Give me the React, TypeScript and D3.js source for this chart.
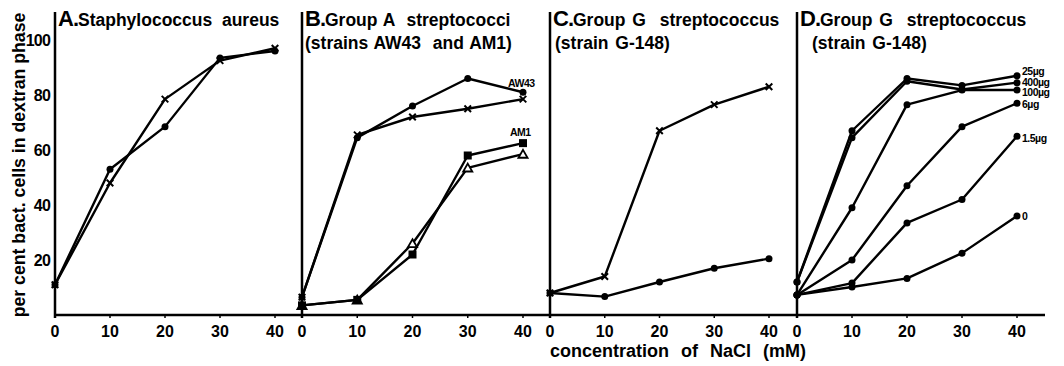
import * as d3 from 'd3'

const nacl = [0, 10, 20, 30, 40]
const yTicks = [20, 40, 60, 80, 100]

// A. Staphylococcus aureus
const aCircle = [11, 53, 68.5, 93.5, 96]
const aCross = [11, 48, 78.5, 92.5, 97]
// B. Group A streptococci
const bAW43Circle = [6.5, 64.5, 76, 86, 81]
const bAW43Cross = [6.5, 65.5, 72, 75, 78.5]
const bAM1Square = [3.5, 5.5, 22, 58, 62.5]
const bAM1Triangle = [3.5, 5.5, 26, 53.5, 58.5]
// C. Group G streptococcus
const cCross = [8, 14, 67, 76.5, 83]
const cCircle = [8, 6.7, 12, 17, 20.5]
// D. Group G streptococcus, doses
const dLabels = ['25µg', '400µg', '100µg', '6µg', '1.5µg', '0']
const d25 = [12, 67, 86, 83.5, 87]
const d400 = [12, 64.5, 85, 82, 84.5]
const d100 = [7.3, 39, 76.5, 81.8, 81.8]
const d6 = [7.3, 20, 47, 68.5, 77]
const d1_5 = [7.3, 11.6, 33.5, 42, 65]
const d0 = [7.3, 10.2, 13.3, 22.5, 36]

type Series = { values: number[]; marker: string; label?: string; ldx?: number; ldy?: number }
type Panel = { key: string; left: number; right: number; letter: string; line1: string; line2?: string; l2dx: number; ws: number; series: Series[] }

const panels: Panel[] = [
  { key: 'A', left: 55, right: 275, letter: 'A.', line1: 'Staphylococcus  aureus', l2dx: 0, ws: 0,
    series: [{ values: aCircle, marker: 'circle' }, { values: aCross, marker: 'cross' }] },
  { key: 'B', left: 302, right: 523, letter: 'B.', line1: 'Group A  streptococci', line2: '(strains AW43  and AM1)', l2dx: 3, ws: 1,
    series: [
      { values: bAW43Circle, marker: 'circle', label: 'AW43', ldx: -15, ldy: -5 },
      { values: bAW43Cross, marker: 'cross' },
      { values: bAM1Triangle, marker: 'triangle' },
      { values: bAM1Square, marker: 'square', label: 'AM1', ldx: -13, ldy: -7 },
    ] },
  { key: 'C', left: 550, right: 769, letter: 'C.', line1: 'Group G  streptococcus', line2: '(strain G-148)', l2dx: 5, ws: 2,
    series: [{ values: cCross, marker: 'cross' }, { values: cCircle, marker: 'circle' }] },
  { key: 'D', left: 797, right: 1017, letter: 'D.', line1: 'Group G  streptococcus', line2: '(strain G-148)', l2dx: 15, ws: 2,
    series: [d25, d400, d100, d6, d1_5, d0].map((v, i) => ({
      values: v, marker: 'circle', label: dLabels[i], ldx: 5, ldy: [-1, 3, 6, 5, 6, 4][i],
    })) },
]

const FONT = "'Liberation Sans', Arial, sans-serif"
const W = 1064
const H = 366
const baseY = 315

function Marker({ type, x, y }: { type: string; x: number; y: number }) {
  if (type === 'cross') {
    return <path d={d3.symbol(d3.symbolTimes, 30)() || ''} transform={`translate(${x},${y})`} stroke="#000" strokeWidth={2} fill="none" />
  }
  if (type === 'square') {
    return <rect x={x - 4} y={y - 4} width={8} height={8} fill="#000" />
  }
  if (type === 'triangle') {
    return <path d={d3.symbol(d3.symbolTriangle, 36)() || ''} transform={`translate(${x},${y + 1})`} stroke="#000" strokeWidth={1.8} fill="#fff" />
  }
  return <circle cx={x} cy={y} r={3.5} fill="#000" />
}

export default function App() {
  const y = d3.scaleLinear().domain([0, 100]).range([baseY, 40])

  return (
    <svg width={W} height={H} style={{ position: 'absolute', left: 0, top: 0, background: '#fff' }} fontFamily={FONT} fontWeight="bold">
      <rect width={W} height={H} fill="#fff" />
      <line x1={panels[0].left} x2={1045} y1={baseY} y2={baseY} stroke="#000" strokeWidth={2.5} />

      <text transform={`translate(25,${165}) rotate(-90)`} textAnchor="middle" fontSize={17.7}>
        per cent bact. cells in dextran phase
      </text>
      {yTicks.map((t) => (
        <text key={t} x={50} y={y(t) + 6} textAnchor="end" fontSize={16} letterSpacing={-0.8}>{t}</text>
      ))}

      {panels.map((p) => {
        const x = d3.scaleLinear().domain([0, 40]).range([p.left, p.right])
        const line = d3.line<number>().x((_, i) => x(nacl[i])).y((v) => y(v))
        return (
          <g key={p.key}>
            <line x1={p.left} x2={p.left} y1={12} y2={baseY + 3} stroke="#000" strokeWidth={2.5} />
            {nacl.map((n) => (
              <g key={n}>
                <line x1={x(n)} x2={x(n)} y1={baseY} y2={baseY + 3} stroke="#000" strokeWidth={1.5} />
                <text x={x(n)} y={337} textAnchor="middle" fontSize={16}>{n}</text>
              </g>
            ))}
            <text x={p.left + 3} y={26} fontSize={17.5} wordSpacing={p.ws}>
              <tspan fontSize={22} letterSpacing={-1}>{p.letter}</tspan>
              <tspan style={{ whiteSpace: 'pre' }}>{p.line1}</tspan>
            </text>
            {p.line2 && (
              <text x={p.left + p.l2dx} y={49} fontSize={17.5} wordSpacing={p.ws} style={{ whiteSpace: 'pre' }}>{p.line2}</text>
            )}
            {p.series.map((s, si) => (
              <g key={si}>
                <path d={line(s.values) || ''} fill="none" stroke="#000" strokeWidth={2.4} strokeLinejoin="round" />
                {s.values.map((v, i) => (
                  <Marker key={i} type={s.marker} x={x(nacl[i])} y={y(v)} />
                ))}
                {s.label && (
                  <text x={x(40) + (s.ldx || 0)} y={y(s.values[4]) + (s.ldy || 0)} fontSize={10.5} letterSpacing={-0.5}>
                    {s.label}
                  </text>
                )}
              </g>
            ))}
          </g>
        )
      })}

      <text x={550} y={357} fontSize={18} wordSpacing={7} style={{ whiteSpace: 'pre' }}>
        concentration of NaCl (mM)
      </text>
    </svg>
  )
}
